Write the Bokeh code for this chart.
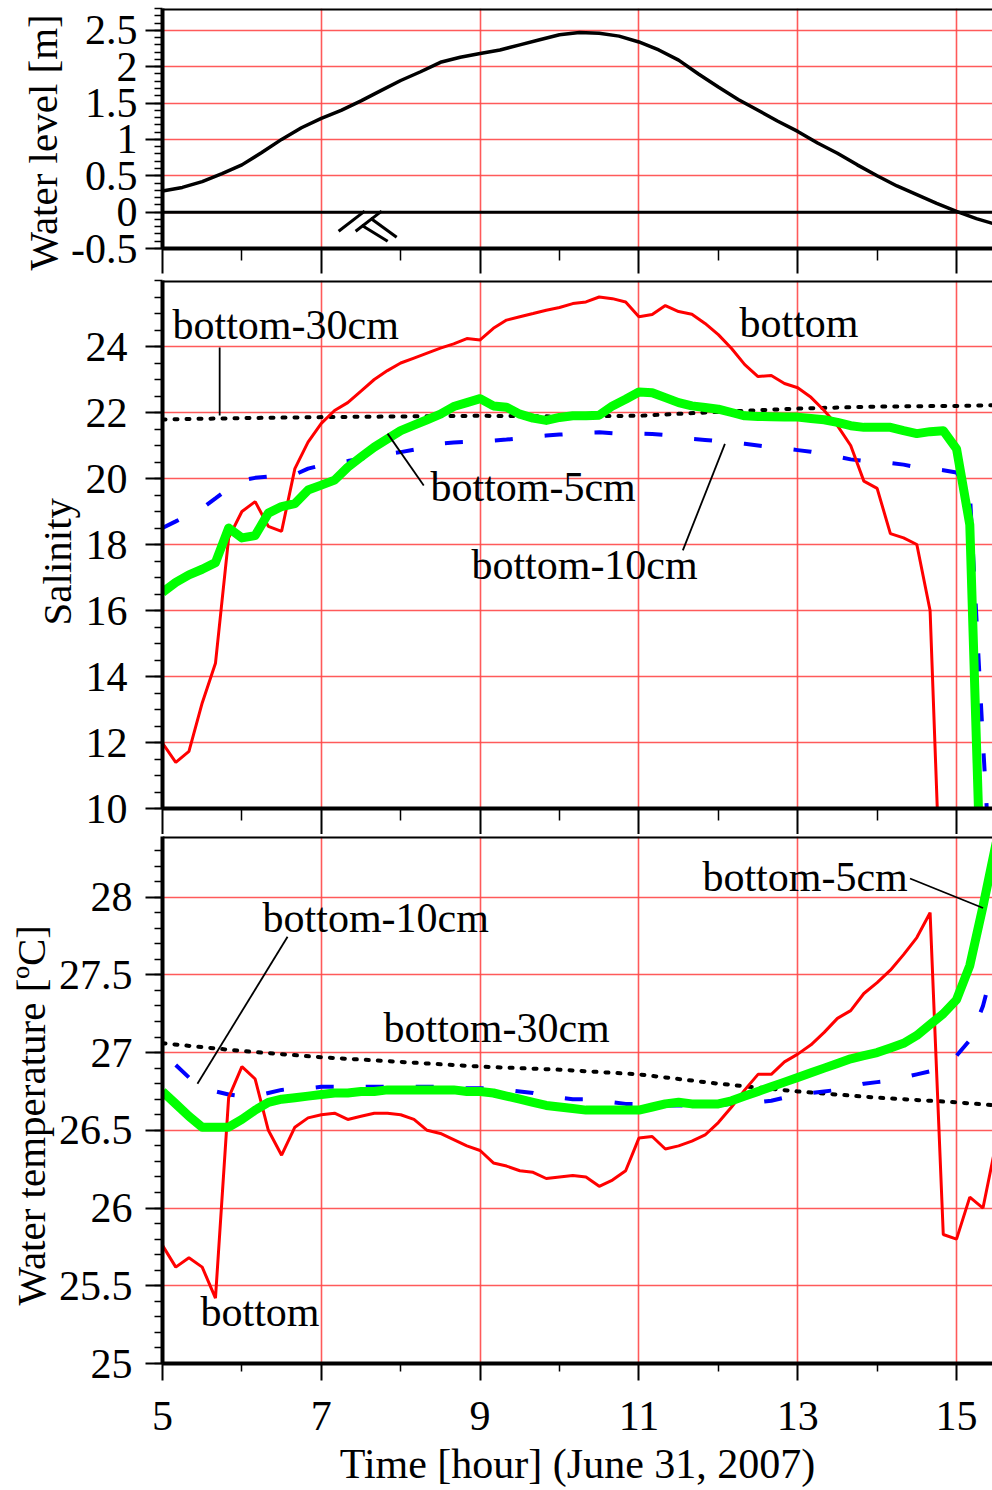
from bokeh.plotting import figure
from bokeh.layouts import column
from bokeh.models import FixedTicker, Span, Range1d, Title
from bokeh.core.properties import value
from bokeh.embed import file_html
from bokeh.resources import INLINE

FONT = "Liberation Serif"

# ---------------- data ----------------
wl_time = [5.0, 5.25, 5.5, 5.75, 6.0, 6.25, 6.5, 6.75, 7.0, 7.25, 7.5, 7.75,
           8.0, 8.25, 8.5, 8.75, 9.0, 9.25, 9.5, 9.75, 10.0, 10.25, 10.5, 10.75,
           11.0, 11.25, 11.5, 11.75, 12.0, 12.25, 12.5, 12.75, 13.0, 13.25, 13.5,
           13.75, 14.0, 14.25, 14.5, 14.75, 15.0, 15.25, 15.5]
wl_level = [0.29, 0.34, 0.42, 0.53, 0.65, 0.82, 1.00, 1.16, 1.29, 1.40, 1.53, 1.67,
            1.81, 1.93, 2.06, 2.13, 2.18, 2.23, 2.30, 2.37, 2.44, 2.47, 2.46, 2.42,
            2.34, 2.23, 2.09, 1.90, 1.72, 1.55, 1.40, 1.25, 1.11, 0.95, 0.81,
            0.65, 0.50, 0.36, 0.24, 0.12, 0.01, -0.09, -0.17]

time10 = [5.0, 5.167, 5.333, 5.5, 5.667, 5.833,
          6.0, 6.167, 6.333, 6.5, 6.667, 6.833,
          7.0, 7.167, 7.333, 7.5, 7.667, 7.833,
          8.0, 8.167, 8.333, 8.5, 8.667, 8.833,
          9.0, 9.167, 9.333, 9.5, 9.667, 9.833,
          10.0, 10.167, 10.333, 10.5, 10.667, 10.833,
          11.0, 11.167, 11.333, 11.5, 11.667, 11.833,
          12.0, 12.167, 12.333, 12.5, 12.667, 12.833,
          13.0, 13.167, 13.333, 13.5, 13.667, 13.833,
          14.0, 14.167, 14.333, 14.5, 14.667, 14.833,
          15.0, 15.167, 15.333, 15.5]

hourly = [5, 6, 7, 8, 9, 10, 11, 12, 13, 14, 15, 15.5]

sal_bottom = [11.98, 11.40, 11.73, 13.20, 14.40, 18.20, 19.00, 19.30, 18.55, 18.40,
              20.30, 21.10, 21.67, 22.06, 22.30, 22.65, 23.00, 23.27, 23.50, 23.65,
              23.80, 23.95, 24.08, 24.24, 24.20, 24.55, 24.80, 24.90, 25.00, 25.10,
              25.18, 25.30, 25.35, 25.50, 25.45, 25.35, 24.90, 24.97, 25.24, 25.06,
              24.98, 24.70, 24.36, 23.94, 23.45, 23.09, 23.12, 22.88, 22.75, 22.46,
              22.06, 21.60, 21.00, 19.92, 19.70, 18.33, 18.20, 18.00, 16.00, 5.00]
sal_5cm = [16.55, 16.85, 17.08, 17.25, 17.45, 18.50, 18.20, 18.27, 18.95, 19.15,
           19.24, 19.65, 19.80, 19.95, 20.34, 20.65, 20.95, 21.20, 21.45, 21.62,
           21.78, 21.95, 22.18, 22.30, 22.42, 22.20, 22.16, 21.95, 21.83, 21.76,
           21.85, 21.90, 21.90, 21.92, 22.20, 22.40, 22.62, 22.60, 22.45, 22.30,
           22.20, 22.15, 22.10, 22.00, 21.90, 21.88, 21.87, 21.86, 21.86, 21.82,
           21.78, 21.70, 21.60, 21.55, 21.55, 21.55, 21.45, 21.36, 21.42, 21.45,
           20.90, 18.60, 5.50]
sal_10cm = [18.50, 18.70, 18.90, 19.10, 19.40, 19.70, 19.94, 20.02, 20.06, 20.08,
            20.12, 20.30, 20.40, 20.47, 20.53, 20.60, 20.67, 20.74, 20.80, 20.87,
            20.97, 21.06, 21.09, 21.11, 21.13, 21.15, 21.18, 21.22, 21.27, 21.30,
            21.33, 21.36, 21.39, 21.40, 21.37, 21.37, 21.36, 21.35, 21.32, 21.27,
            21.20, 21.17, 21.13, 21.09, 21.05, 21.00, 20.95, 20.91, 20.86, 20.81,
            20.74, 20.66, 20.58, 20.53, 20.50, 20.47, 20.42, 20.34, 20.30, 20.25,
            20.18, 19.60, 12.00, 5.00]
sal_30cm = [21.79, 21.83, 21.86, 21.88, 21.90, 21.88, 21.90, 22.02, 22.12, 22.18, 22.20, 22.22]

temp_bottom = [25.76, 25.62, 25.68, 25.62, 25.42, 26.71, 26.91, 26.83, 26.50, 26.34,
               26.52, 26.58, 26.60, 26.61, 26.57, 26.59, 26.61, 26.61, 26.60, 26.57,
               26.50, 26.48, 26.44, 26.40, 26.37, 26.29, 26.27, 26.24, 26.23, 26.19,
               26.20, 26.21, 26.20, 26.14, 26.18, 26.24, 26.45, 26.46, 26.38, 26.40,
               26.43, 26.47, 26.55, 26.65, 26.76, 26.86, 26.86, 26.94, 26.99, 27.05,
               27.13, 27.22, 27.27, 27.38, 27.45, 27.53, 27.63, 27.74, 27.90, 25.83,
               25.80, 26.07, 26.00, 26.42]
temp_5cm = [26.75, 26.67, 26.59, 26.52, 26.52, 26.52, 26.57, 26.63, 26.68, 26.70,
            26.71, 26.72, 26.73, 26.74, 26.74, 26.75, 26.75, 26.76, 26.76, 26.76,
            26.76, 26.76, 26.76, 26.75, 26.75, 26.74, 26.72, 26.70, 26.68, 26.66,
            26.65, 26.64, 26.63, 26.63, 26.63, 26.63, 26.63, 26.65, 26.67, 26.68,
            26.67, 26.67, 26.67, 26.69, 26.72, 26.75, 26.78, 26.81, 26.84, 26.87,
            26.90, 26.93, 26.96, 26.98, 27.00, 27.03, 27.06, 27.11, 27.18, 27.25,
            27.34, 27.56, 27.94, 28.35]
temp_10cm = [26.92, 26.84, 26.78, 26.75, 26.73, 26.72, 26.72, 26.74, 26.76, 26.77,
             26.77, 26.78, 26.78, 26.78, 26.78, 26.78, 26.78, 26.78, 26.78, 26.78,
             26.78, 26.77, 26.77, 26.77, 26.77, 26.76, 26.75, 26.74, 26.72, 26.71,
             26.70, 26.70, 26.69, 26.68, 26.67, 26.67, 26.66, 26.66, 26.66, 26.66,
             26.66, 26.66, 26.67, 26.67, 26.68, 26.69, 26.71, 26.72, 26.74, 26.75,
             26.76, 26.78, 26.80, 26.81, 26.82, 26.84, 26.86, 26.88, 26.92, 26.98,
             27.08, 27.30, 27.62]
temp_30cm = [27.06, 27.01, 26.97, 26.94, 26.91, 26.89, 26.86, 26.80, 26.75, 26.71, 26.68, 26.66]

x_major = [5, 7, 9, 11, 13, 15]
x_minor = [6, 8, 10, 12, 14]

wl_major = [-0.5, 0, 0.5, 1, 1.5, 2, 2.5]
wl_labels = {-0.5: "-0.5", 0: "0", 0.5: "0.5", 1: "1", 1.5: "1.5", 2: "2", 2.5: "2.5"}
wl_minor = [round(-0.5 + 0.1 * k, 2) for k in range(34)]
sal_major = [10, 12, 14, 16, 18, 20, 22, 24]
sal_minor = [10 + 0.5 * k for k in range(33)]
temp_major = [25, 25.5, 26, 26.5, 27, 27.5, 28]
temp_minor = [round(25 + 0.1 * k, 2) for k in range(34)]

ytitles = ["Water level [m]", "Salinity", "Water temperature [ºC]"]
xtitle = "Time [hour] (June 31, 2007)"

# annotations
sal_note_text = ["bottom-30cm", "bottom", "bottom-5cm", "bottom-10cm"]
sal_note_x = [5.126, 12.267, 8.375, 8.89]
sal_note_y = [24.64, 24.70, 19.74, 17.37]
sal_lead_x0 = [5.72, 7.835, 11.553]
sal_lead_y0 = [23.97, 21.36, 17.82]
sal_lead_x1 = [5.72, 8.29, 12.083]
sal_lead_y1 = [21.91, 19.79, 21.05]

temp_note_text = ["bottom-10cm", "bottom-30cm", "bottom-5cm", "bottom"]
temp_note_x = [6.26, 7.783, 11.80, 5.479]
temp_note_y = [27.867, 27.161, 28.131, 25.332]
temp_lead_x0 = [6.575, 14.414]
temp_lead_y0 = [27.745, 28.12]
temp_lead_x1 = [5.44, 15.334]
temp_lead_y1 = [26.80, 27.93]

# water-level mark below the zero line
mark_x0 = [7.218, 7.432, 7.621, 7.508]
mark_y0 = [-0.262, -0.262, -0.083, -0.180]
mark_x1 = [7.546, 7.760, 7.949, 7.836]
mark_y1 = [0.014, 0.014, -0.346, -0.401]

X_END = 15.453


def make_fig(height, y0, y1, ymaj, ymin, top, bottom,
             xt_major, xt_minor, show_xlabels, ytick_standoff):
    p = figure(width=992, height=height,
               x_range=Range1d(5, X_END), y_range=Range1d(y0, y1),
               output_backend="svg", toolbar_location=None,
               min_border_left=162, min_border_right=0,
               min_border_top=top, min_border_bottom=bottom)
    p.outline_line_color = None
    p.background_fill_color = "white"
    p.border_fill_color = "white"

    xa = p.xaxis[0]
    xa.ticker = FixedTicker(ticks=x_major, minor_ticks=x_minor)
    xa.axis_line_width = 4
    xa.axis_line_color = "black"
    xa.major_tick_in = 0
    xa.minor_tick_in = 0
    xa.major_tick_out = xt_major
    xa.minor_tick_out = xt_minor
    xa.major_tick_line_width = 2
    xa.minor_tick_line_width = 1.5
    if show_xlabels:
        xa.major_label_text_font = FONT
        xa.major_label_text_font_size = "42px"
        xa.major_label_text_color = "black"
        xa.major_label_standoff = 21
        xa.axis_label = xtitle
        xa.axis_label_text_font = FONT
        xa.axis_label_text_font_size = "42px"
        xa.axis_label_text_font_style = "normal"
        xa.axis_label_text_color = "black"
        xa.axis_label_standoff = 8
    else:
        xa.major_label_text_font_size = "2px"
        xa.major_label_text_color = None
        xa.major_label_standoff = 0

    ya = p.yaxis[0]
    ya.ticker = FixedTicker(ticks=ymaj, minor_ticks=ymin)
    ya.axis_line_width = 4
    ya.axis_line_color = "black"
    ya.major_tick_in = 0
    ya.minor_tick_in = 0
    ya.major_tick_out = 17
    ya.minor_tick_out = 8
    ya.major_tick_line_width = 2
    ya.minor_tick_line_width = 1.5
    ya.major_label_text_font = FONT
    ya.major_label_text_font_size = "42px"
    ya.major_label_text_color = "black"
    ya.major_label_standoff = ytick_standoff

    p.xgrid.ticker = FixedTicker(ticks=x_major)
    p.ygrid.ticker = FixedTicker(ticks=ymaj)
    for g in (p.xgrid[0], p.ygrid[0]):
        g.grid_line_color = "#ff4848"
        g.grid_line_width = 1.6
        g.grid_line_alpha = 0.9

    p.add_layout(Span(location=y1, dimension="width", line_color="black", line_width=4))
    return p


def add_ytitle(p, text, offset, standoff):
    p.add_layout(Title(text=text, align="left", offset=offset, standoff=standoff,
                       text_font=FONT, text_font_size="41px", text_font_style="normal",
                       text_color="black"), "left")


# ---------- panel 1: water level ----------
p1 = make_fig(275, -0.5, 2.8, wl_major, wl_minor, 8, 27, 25, 12, False, 8)
p1.yaxis[0].major_label_overrides = wl_labels
add_ytitle(p1, ytitles[0], -22, 6)
p1.add_layout(Span(location=0, dimension="width", line_color="black", line_width=3))
p1.line(wl_time, wl_level, line_color="black", line_width=3.5, line_join="round")
p1.segment(x0=mark_x0, y0=mark_y0, x1=mark_x1, y1=mark_y1, line_color="black", line_width=3)

# ---------- panel 2: salinity ----------
p2 = make_fig(559, 10, 26, sal_major, sal_minor, 5, 26, 26, 12, False, 18)
add_ytitle(p2, ytitles[1], 183, 6)
p2.line(hourly, sal_30cm, line_color="black", line_width=4, line_dash="3 9", line_cap="round")
p2.line(time10, sal_10cm, line_color="#0000ff", line_width=4, line_dash="18 32")
p2.line(time10[:len(sal_bottom)], sal_bottom, line_color="#ff0000", line_width=3)
p2.line(time10[:len(sal_5cm)], sal_5cm, line_color="#00ff00", line_width=9, line_join="round")
p2.segment(x0=sal_lead_x0, y0=sal_lead_y0, x1=sal_lead_x1, y1=sal_lead_y1,
           line_color="black", line_width=1.8)
p2.text(x=sal_note_x, y=sal_note_y, text=sal_note_text, text_font=value(FONT),
        text_font_size=value("42px"), text_baseline="alphabetic", text_align="left",
        text_color="black")

# ---------- panel 3: water temperature ----------
p3 = make_fig(656, 25, 28.39, temp_major, temp_minor, 2, 127, 17, 8, True, 13)
add_ytitle(p3, ytitles[2], 58, 4)
p3.line(hourly, temp_30cm, line_color="black", line_width=4, line_dash="3 9", line_cap="round")
p3.line(time10[1:], temp_10cm, line_color="#0000ff", line_width=4, line_dash="18 32")
p3.line(time10, temp_bottom, line_color="#ff0000", line_width=3)
p3.line(time10, temp_5cm, line_color="#00ff00", line_width=9, line_join="round")
p3.segment(x0=temp_lead_x0, y0=temp_lead_y0, x1=temp_lead_x1, y1=temp_lead_y1,
           line_color="black", line_width=1.8)
p3.text(x=temp_note_x, y=temp_note_y, text=temp_note_text, text_font=value(FONT),
        text_font_size=value("42px"), text_baseline="alphabetic", text_align="left",
        text_color="black")

layout = column(p1, p2, p3, spacing=0)

with open("out.html", "w") as f:
    f.write(file_html(layout, INLINE, title="Water level, salinity and temperature"))
